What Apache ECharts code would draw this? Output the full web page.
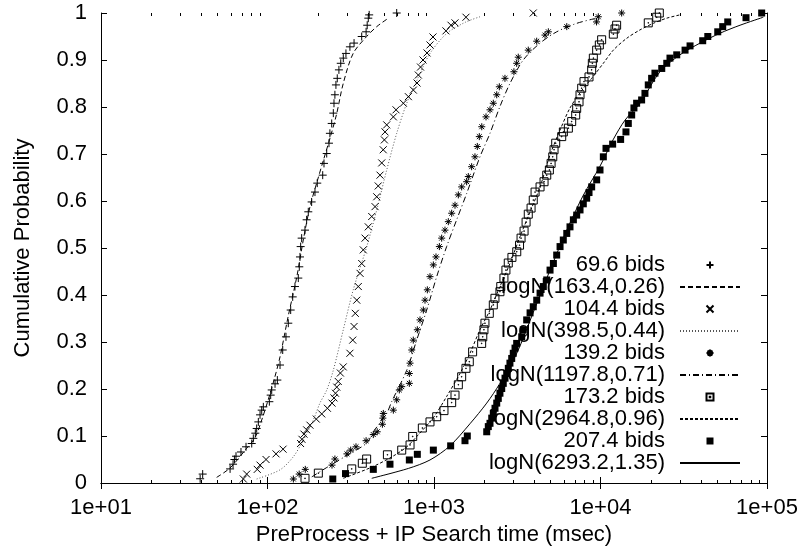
<!DOCTYPE html>
<html lang="en">
<head>
<meta charset="UTF-8">
<title>Cumulative Probability</title>
<script src="https://cdn.jsdelivr.net/npm/echarts@6/dist/echarts.min.js"></script>
</head>
<body style="margin:0">
<div id="main" style="width:801px;height:554px;"></div>
<script>
var bids70 = [[39.4,0.009],[40.8,0.019],[59.6,0.030],[62.1,0.040],[63.3,0.050],[64.7,0.057],[69.3,0.066],[74.3,0.077],[80.4,0.084],[82.2,0.095],[84.5,0.106],[86.1,0.116],[88.1,0.130],[90.2,0.145],[92.3,0.155],[94.4,0.162],[102.6,0.173],[104.5,0.187],[106,0.198],[111,0.211],[114.6,0.219],[118.9,0.251],[123.4,0.283],[129.1,0.311],[133.3,0.340],[137.8,0.368],[141.7,0.396],[146.2,0.418],[153.1,0.436],[155.2,0.460],[156.7,0.481],[158.2,0.503],[160.4,0.521],[167.9,0.538],[171.8,0.560],[175.8,0.577],[184.1,0.598],[192.8,0.619],[199,0.638],[214.6,0.655],[218.4,0.680],[226.8,0.701],[234,0.723],[237,0.744],[243,0.765],[248.5,0.787],[250.8,0.808],[254,0.826],[257.6,0.847],[262.4,0.861],[268.5,0.879],[275.4,0.893],[285.2,0.904],[295.9,0.914],[312.6,0.928],[331,0.936],[368,0.950],[391,0.960],[397,0.974],[403,0.989],[408,0.996],[597,1.0]];
var bids104 = [[71.6,0.0085],[75.0,0.019],[86.8,0.029],[90.2,0.038],[98,0.050],[112.5,0.062],[124,0.072],[158,0.084],[161,0.093],[165.6,0.104],[171.9,0.113],[179.9,0.123],[196.4,0.136],[211.7,0.147],[229,0.159],[244,0.170],[250.8,0.181],[256,0.191],[260.6,0.204],[266,0.216],[274,0.234],[285,0.247],[312.6,0.276],[325,0.304],[331,0.333],[336.7,0.361],[343.6,0.389],[351,0.418],[359.7,0.446],[368,0.467],[376,0.496],[385.5,0.521],[403,0.545],[422.7,0.567],[442.6,0.588],[452.9,0.609],[462.4,0.632],[474,0.655],[485.3,0.681],[495.5,0.709],[503.5,0.730],[508,0.747],[520,0.762],[570,0.779],[591.6,0.794],[654.6,0.808],[701.5,0.822],[751.6,0.836],[791,0.851],[805,0.868],[830,0.885],[859,0.900],[908,0.915],[946,0.932],[986,0.949],[1180,0.962],[1265,0.974],[1337,0.979],[1556,0.991],[3946,1.0]];
var bids139 = [[143,0.0085],[155,0.019],[168.6,0.029],[244,0.038],[254,0.051],[300,0.062],[316,0.070],[340,0.077],[391,0.090],[432,0.103],[456,0.109],[490,0.125],[493,0.138],[496,0.148],[570,0.155],[597,0.177],[619,0.198],[640,0.205],[711,0.212],[711,0.233],[718,0.255],[735,0.283],[751,0.304],[794,0.326],[824,0.347],[863,0.368],[883,0.389],[912,0.411],[946,0.439],[991,0.464],[1028,0.481],[1077,0.503],[1112,0.521],[1164,0.538],[1219,0.556],[1277,0.574],[1337,0.591],[1400,0.613],[1466,0.630],[1571,0.641],[1607,0.652],[1683,0.673],[1762,0.694],[1820,0.716],[1871,0.737],[1936,0.758],[2053,0.779],[2169,0.794],[2271,0.808],[2381,0.826],[2468,0.843],[2668,0.861],[3020,0.875],[3137,0.893],[3207,0.906],[3683,0.921],[4138,0.940],[4642,0.953],[4862,0.960],[6272,0.971],[9466,0.981],[9700,0.992],[13400,1.0]];
var bids173 = [[168,0.010],[202,0.021],[320.6,0.030],[371,0.042],[394,0.051],[525,0.060],[640,0.070],[718,0.081],[745,0.099],[851,0.117],[946,0.130],[1038,0.141],[1148,0.154],[1277,0.171],[1337,0.187],[1400,0.209],[1466,0.226],[1556,0.244],[1629,0.258],[1706,0.279],[1933,0.297],[1963,0.311],[1995,0.326],[2023,0.340],[2148,0.361],[2271,0.379],[2323,0.393],[2489,0.407],[2518,0.418],[2630,0.436],[2704,0.453],[2793,0.468],[2938,0.480],[3141,0.492],[3264,0.506],[3333,0.521],[3475,0.536],[3573,0.555],[3683,0.572],[3828,0.585],[3946,0.602],[4046,0.619],[4335,0.630],[4581,0.641],[4755,0.655],[4931,0.666],[5049,0.680],[5167,0.694],[5260,0.709],[5383,0.723],[5848,0.737],[5984,0.747],[6412,0.755],[6714,0.769],[7096,0.783],[7194,0.797],[7430,0.811],[7534,0.826],[7710,0.840],[7961,0.854],[8531,0.864],[8851,0.879],[8933,0.893],[9057,0.904],[9484,0.921],[9840,0.932],[10160,0.943],[11940,0.955],[12220,0.966],[12500,0.974],[19360,0.979],[21760,0.991],[22550,1.0]];
var bids207 = [[246.6,0.0085],[294,0.020],[432,0.029],[544,0.040],[711,0.049],[794,0.061],[991,0.070],[1259,0.079],[1535,0.090],[1585,0.100],[2073,0.109],[2119,0.120],[2169,0.127],[2222,0.138],[2271,0.148],[2325,0.159],[2381,0.170],[2433,0.180],[2489,0.191],[2551,0.201],[2606,0.212],[2670,0.223],[2733,0.233],[2795,0.244],[2858,0.255],[2929,0.265],[2993,0.276],[3066,0.287],[3137,0.297],[3364,0.311],[3436,0.326],[3603,0.347],[3776,0.362],[3946,0.375],[4139,0.389],[4335,0.404],[4535,0.418],[4755,0.432],[4977,0.453],[5212,0.467],[5456,0.485],[5716,0.503],[5978,0.517],[6272,0.531],[6558,0.545],[6871,0.560],[7195,0.570],[7534,0.581],[7883,0.594],[8260,0.606],[8532,0.618],[8851,0.630],[9484,0.645],[9931,0.666],[10400,0.694],[10790,0.712],[11830,0.721],[13210,0.731],[14220,0.747],[14690,0.765],[15390,0.783],[15880,0.798],[16480,0.808],[17660,0.815],[18490,0.829],[19360,0.847],[20280,0.861],[21230,0.872],[23330,0.882],[25000,0.893],[26140,0.904],[28700,0.911],[32200,0.921],[34500,0.930],[41100,0.941],[44100,0.950],[50600,0.960],[54200,0.971],[58100,0.981],[74800,0.990],[92900,1.0]];

// fitted lognormal curves
var fit163 = [[49.5,0.012],[59.6,0.032],[75,0.074],[84.1,0.096],[92.3,0.134],[101,0.177],[110,0.222],[119,0.269],[133,0.354],[150,0.439],[164,0.517],[180,0.588],[200,0.645],[218,0.690],[238,0.735],[260,0.785],[285,0.850],[327,0.914],[394,0.950],[453,0.971],[532,0.989]];
var fit398 = [[86.1,0.0085],[118.9,0.028],[143,0.056],[164,0.091],[188.4,0.134],[206.5,0.170],[227,0.198],[248.5,0.240],[285.2,0.326],[327.3,0.411],[394.5,0.503],[453,0.581],[520,0.666],[597,0.744],[686,0.808],[802,0.862],[946,0.914],[1197,0.957],[1535,0.980],[1888,0.992]];
var fit1198 = [[184.5,0.013],[227,0.033],[304,0.060],[394.5,0.085],[432,0.109],[520,0.148],[557,0.173],[686,0.240],[787,0.304],[904,0.368],[1038,0.439],[1191,0.503],[1368,0.560],[1571,0.616],[1888,0.694],[2169,0.744],[2489,0.801],[2858,0.850],[3436,0.900],[4335,0.936],[5458,0.960],[7194,0.978],[9484,0.989]];
var fit2965 = [[285,0.010],[424.6,0.034],[567,0.057],[686,0.077],[802,0.102],[991,0.139],[1191,0.184],[1432,0.233],[1644,0.276],[1888,0.326],[2169,0.368],[2489,0.418],[2858,0.467],[3285,0.524],[3776,0.577],[4335,0.630],[4977,0.698],[5716,0.751],[6561,0.798],[7744,0.836],[8851,0.861],[10400,0.893],[11940,0.921],[14350,0.946],[17260,0.964],[20750,0.978],[25000,0.989],[30000,0.996]];
var fit6293 = [[422.7,0.010],[701.5,0.031],[946,0.049],[1247,0.079],[1644,0.126],[2073,0.170],[2489,0.212],[3141,0.276],[3936,0.362],[4977,0.453],[6272,0.538],[7852,0.611],[9931,0.674],[11890,0.730],[14030,0.772],[17260,0.808],[22750,0.875],[30000,0.911],[39630,0.936],[52240,0.957],[68870,0.974],[95000,0.991]];

var names = ['69.6 bids', 'logN(163.4,0.26)', '104.4 bids', 'logN(398.5,0.44)',
    '139.2 bids', 'logN(1197.8,0.71)', '173.2 bids', 'logN(2964.8,0.96)',
    '207.4 bids', 'logN(6293.2,1.35)'];

// minor ticks of the log axis: 2..9 within each decade, bottom and top edge
var minorSteps = [2, 3, 4, 5, 6, 7, 8, 9];
var decades = [10, 100, 1000, 10000];
var minorTicks = [];
decades.forEach(function (d) {
    minorSteps.forEach(function (m) {
        minorTicks.push([d * m, 0]);
        minorTicks.push([d * m, 1]);
    });
});

var FONT = "'Liberation Sans', Arial, Helvetica, sans-serif";

var PLUS = 'path://M5,0L5,10M0,5L10,5';
var CROSS = 'path://M0,0L10,10M10,0L0,10';
var STAR = 'path://M5,0L5,10M0,5L10,5M1.5,1.5L8.5,8.5M8.5,1.5L1.5,8.5';
var BOX = 'path://M0,0L10,0L10,10L0,10ZM4.6,4.6L5.4,4.6L5.4,5.4L4.6,5.4Z';
var SQUARE = 'path://M0,0L10,0L10,10L0,10Z';

function pts(name, data, symbol, size, fill) {
    return {
        name: name, type: 'scatter', data: data, symbol: symbol, symbolSize: size,
        symbolKeepAspect: true, clip: false, z: 3,
        itemStyle: {color: fill || 'rgba(0,0,0,0)', borderColor: '#000', borderWidth: fill ? 0 : 1, opacity: 1}
    };
}

function fit(name, data, dash, color) {
    return {
        name: name, type: 'line', data: data, showSymbol: false, symbol: 'none',
        smooth: 0.3, clip: false, z: 2,
        itemStyle: {color: 'rgba(0,0,0,0)'},
        lineStyle: {color: color || '#000', width: 1, type: dash}
    };
}

var chartDom = document.getElementById('main');
var myChart = echarts.init(chartDom);
var option;

option = {
    animation: false,
    backgroundColor: '#fff',
    textStyle: {fontFamily: FONT},
    grid: {left: 101, right: 34, top: 13, bottom: 71},
    xAxis: [
        {
            type: 'log', min: 10, max: 100000, position: 'bottom',
            name: 'PreProcess + IP Search time (msec)', nameLocation: 'middle', nameGap: 41,
            nameTextStyle: {fontSize: 22, color: '#000', fontFamily: FONT},
            axisLine: {lineStyle: {color: '#000', width: 1}},
            axisTick: {inside: true, length: 6, lineStyle: {color: '#000'}},
            axisLabel: {
                fontSize: 22, color: '#000', margin: 14, fontFamily: FONT,
                formatter: function (v) {
                    var e = Math.round(Math.log10(v));
                    return '1e+' + (e < 10 ? '0' : '') + e;
                }
            },
            splitLine: {show: false}
        },
        {
            type: 'log', min: 10, max: 100000, position: 'top',
            axisLine: {lineStyle: {color: '#000', width: 1}},
            axisTick: {inside: true, length: 6, lineStyle: {color: '#000'}},
            axisLabel: {show: false}, splitLine: {show: false}
        }
    ],
    yAxis: [
        {
            type: 'value', min: 0, max: 1, interval: 0.1, position: 'left',
            name: 'Cumulative Probability', nameLocation: 'middle', nameGap: 67,
            nameTextStyle: {fontSize: 22, color: '#000', fontFamily: FONT},
            axisLine: {show: true, lineStyle: {color: '#000', width: 1}},
            axisTick: {show: true, inside: true, length: 6, lineStyle: {color: '#000'}},
            axisLabel: {fontSize: 22, color: '#000', margin: 14, fontFamily: FONT},
            splitLine: {show: false}
        },
        {
            type: 'value', min: 0, max: 1, interval: 0.1, position: 'right',
            axisLine: {show: true, lineStyle: {color: '#000', width: 1}},
            axisTick: {show: true, inside: true, length: 6, lineStyle: {color: '#000'}},
            axisLabel: {show: false}, splitLine: {show: false}
        }
    ],
    legend: {
        data: names, orient: 'vertical', align: 'right',
        right: 60, top: 254, padding: 0, itemGap: 0,
        itemWidth: 60, itemHeight: 7, symbolKeepAspect: true,
        selectedMode: false,
        textStyle: {fontSize: 22, color: '#000', fontFamily: FONT, padding: [0, 10, 0, 0]}
    },
    series: [
        pts(names[0], bids70, PLUS, 8),
        fit(names[1], fit163, [5, 3]),
        pts(names[2], bids104, CROSS, 7),
        fit(names[3], fit398, [1, 2], '#555'),
        pts(names[4], bids139, STAR, 7),
        fit(names[5], fit1198, [6, 3, 1, 3]),
        pts(names[6], bids173, BOX, 8),
        fit(names[7], fit2965, [3, 2]),
        pts(names[8], bids207, SQUARE, 7, '#000'),
        fit(names[9], fit6293, 'solid'),
        {
            type: 'custom', name: 'minor ticks', data: minorTicks, silent: true, clip: false, z: 1,
            renderItem: function (params, api) {
                var p = api.coord([api.value(0), api.value(1)]);
                var dir = api.value(1) === 0 ? -1 : 1;
                var x = Math.round(p[0]) + 0.5;
                return {
                    type: 'line',
                    shape: {x1: x, y1: p[1], x2: x, y2: p[1] + dir * 3},
                    style: {stroke: '#000', lineWidth: 1}
                };
            }
        }
    ]
};

option && myChart.setOption(option);
</script>
</body>
</html>
